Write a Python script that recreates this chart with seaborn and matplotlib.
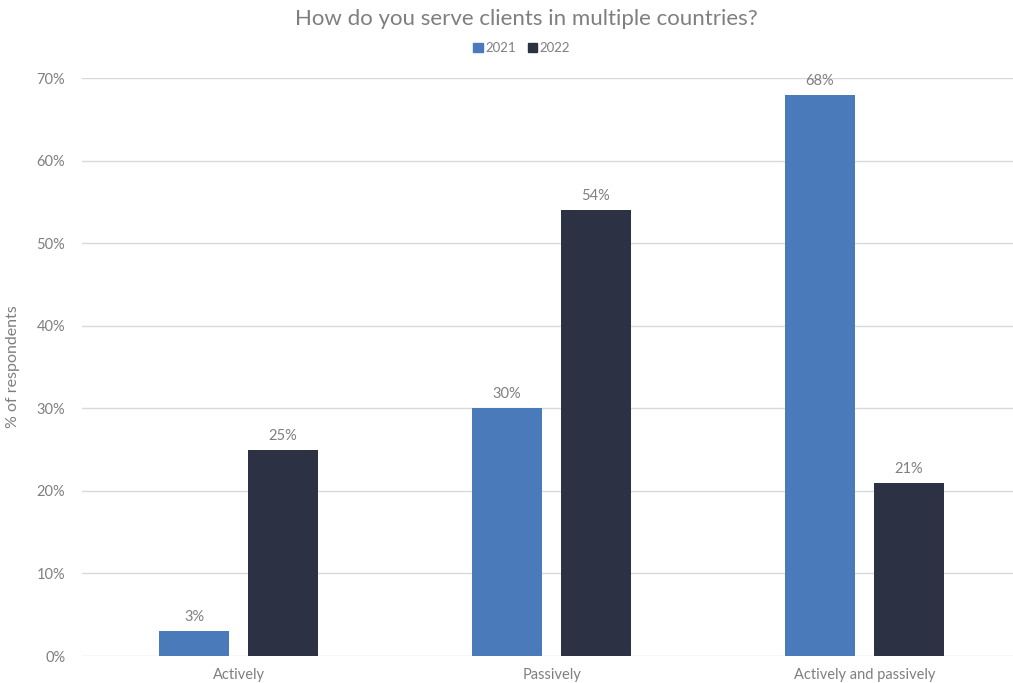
import matplotlib
matplotlib.use("Agg")
import matplotlib.pyplot as plt
import seaborn as sns
import pandas as pd

categories = ["Actively", "Passively", "Actively and passively"]
years = ["2021", "2022"]
values_2021 = [3, 30, 68]
values_2022 = [25, 54, 21]
y_ticks = [0, 10, 20, 30, 40, 50, 60, 70]

df = pd.DataFrame({
    "category": categories * 2,
    "year": [years[0]] * 3 + [years[1]] * 3,
    "value": values_2021 + values_2022,
})

sns.set_theme(style="white")
plt.rcParams["font.family"] = ["Lato", "DejaVu Sans"]

grey = "#7f7f7f"
palette = {"2021": "#4a7aba", "2022": "#2c3243"}

fig = plt.figure(figsize=(10.13, 6.83), dpi=100)
ax = fig.add_axes([82 / 1013, 27 / 683, 931 / 1013, 578 / 683])

sns.barplot(data=df, x="category", y="value", hue="year", order=categories,
            hue_order=years, palette=palette, width=0.568, gap=0.21,
            saturation=1, legend=False, linewidth=0, ax=ax, zorder=3)

ax.set_xlim(-0.5, -0.5 + 931 / 313)
ax.set_ylim(0, 70)
ax.set_yticks(y_ticks)
ax.set_yticklabels([f"{t}%" for t in y_ticks])
ax.yaxis.grid(True, color="#d9d9d9", linewidth=1.0, zorder=0)
ax.set_axisbelow(True)
for s in ax.spines.values():
    s.set_visible(False)
ax.tick_params(axis="both", length=0, colors=grey, labelsize=10.5)
ax.tick_params(axis="y", pad=12)
ax.tick_params(axis="x", pad=9)
ax.set_xlabel("")
ax.set_ylabel("% of respondents", color=grey, fontsize=11.5, labelpad=12)

for cont in ax.containers:
    ax.bar_label(cont, labels=[f"{v:.0f}%" for v in cont.datavalues],
                 padding=5, color=grey, fontsize=10.5)

fig.text(0.52, 1 - 19 / 683, "How do you serve clients in multiple countries?",
         ha="center", va="center", color=grey, fontsize=16)

handles = [plt.Rectangle((0, 0), 1, 1, color=palette[y]) for y in years]
fig.legend(handles, years, loc="center", bbox_to_anchor=(0.515, 1 - 48 / 683),
           ncol=2, frameon=False, fontsize=9.5, labelcolor=grey,
           handlelength=0.7, handleheight=0.7, handletextpad=0.2,
           columnspacing=0.9)

fig.savefig("out.png", dpi=100)
